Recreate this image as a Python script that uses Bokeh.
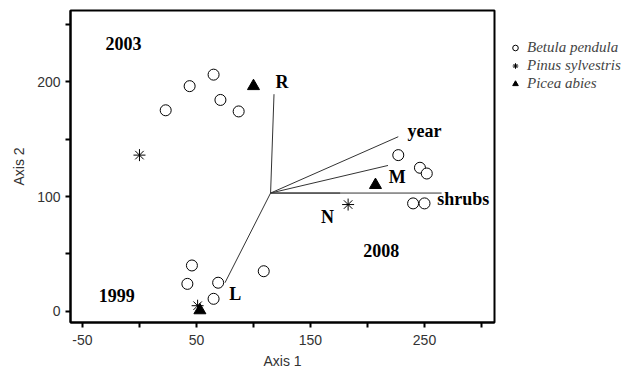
from bokeh.plotting import figure
from bokeh.models import Range1d, FixedTicker, Legend, LegendItem
from bokeh.core.properties import value
from bokeh.embed import file_html
from bokeh.resources import INLINE

# Species scores
betula_x = [23, 44, 65, 71, 87, 46, 42, 69, 65, 109, 227, 246, 252, 240, 250]
betula_y = [175, 196, 206, 184, 174, 40, 24, 25, 11, 35, 136, 125, 120, 94, 94]
pinus_x = [0, 51, 183]
pinus_y = [136, 5, 93]
picea_x = [100, 53, 207]
picea_y = [196, 1, 110]

# Environmental vectors (origin and tips)
vec_names = ["R", "year", "M", "shrubs", "N", "L"]
vec_origin = [115, 103]
vec_tip_x = [118, 227, 218, 265, 176, 75]
vec_tip_y = [189, 152, 127, 103, 103, 25]
vec_label_x = [125, 250, 226, 284, 165, 84]
vec_label_y = [200, 157, 117, 98, 82, 15]

# Year labels
year_names = ["2003", "1999", "2008"]
year_x = [-14, -20, 212]
year_y = [233, 14, 53]

x_ticks = [-50, 0, 50, 100, 150, 200, 250, 300]
y_ticks = [0, 50, 100, 150, 200, 250]
x_labeled = [-50, 50, 150, 250]
y_labeled = [0, 100, 200]

p = figure(width=642, height=374, output_backend="svg", toolbar_location=None,
           x_range=Range1d(-60.5, 311.4), y_range=Range1d(-9.6, 261.8),
           min_border_left=70, min_border_right=148, min_border_top=10, min_border_bottom=52)
p.frame_width = 424
p.frame_height = 312
p.xgrid.visible = False
p.ygrid.visible = False
p.outline_line_color = "black"
p.outline_line_width = 2
p.background_fill_color = "white"
p.border_fill_color = "white"

for ax, ticks, labeled in ((p.xaxis, x_ticks, x_labeled), (p.yaxis, y_ticks, y_labeled)):
    ax.ticker = FixedTicker(ticks=ticks)
    ax.major_label_overrides = {t: ("" if t not in labeled else str(t)) for t in ticks}
    ax.axis_line_width = 2
    ax.axis_line_color = "black"
    ax.major_tick_line_width = 2
    ax.major_tick_line_color = "black"
    ax.major_tick_in = 0
    ax.major_tick_out = 5
    ax.minor_tick_line_color = None
    ax.major_label_text_font = "Liberation Sans"
    ax.major_label_text_font_size = "14px"
    ax.major_label_text_color = "#333333"
    ax.axis_label_text_font = "Liberation Sans"
    ax.axis_label_text_font_size = "14px"
    ax.axis_label_text_font_style = "normal"
    ax.axis_label_text_color = "#333333"
p.xaxis.axis_label = "Axis 1"
p.yaxis.axis_label = "Axis 2"
p.xaxis.major_label_standoff = 7
p.yaxis.major_label_standoff = 5
p.xaxis.axis_label_standoff = 5
p.yaxis.axis_label_standoff = 7

# vectors
xs = [[vec_origin[0], tx] for tx in vec_tip_x]
ys = [[vec_origin[1], ty] for ty in vec_tip_y]
p.multi_line(xs, ys, line_color="#333333", line_width=1)

p.text(vec_label_x, vec_label_y, text=vec_names, text_font=value("Liberation Serif"),
       text_font_style="bold", text_font_size="18px", text_align="center",
       text_baseline="middle", text_color="black")
p.text(year_x, year_y, text=year_names, text_font=value("Liberation Serif"),
       text_font_style="bold", text_font_size="18px", text_align="center",
       text_baseline="middle", text_color="black")

r1 = p.scatter(betula_x, betula_y, marker="circle", size=11, fill_color="white",
               line_color="black", line_width=1)
r2 = p.scatter(pinus_x, pinus_y, marker="asterisk", size=12, line_color="black",
               line_width=1)
r3 = p.scatter(picea_x, picea_y, marker="triangle", size=12, fill_color="black",
               line_color="black")

legend = Legend(items=[LegendItem(label="Betula pendula", renderers=[r1]),
                       LegendItem(label="Pinus sylvestris", renderers=[r2]),
                       LegendItem(label="Picea abies", renderers=[r3])],
                location=(14, 230), border_line_color=None, background_fill_alpha=0,
                padding=0, spacing=1, margin=0, glyph_width=14, glyph_height=15,
                label_height=15, label_standoff=5,
                label_text_font="Liberation Serif", label_text_font_style="italic",
                label_text_font_size="15px")
p.add_layout(legend, "right")

open("out.html", "w").write(file_html(p, INLINE))
